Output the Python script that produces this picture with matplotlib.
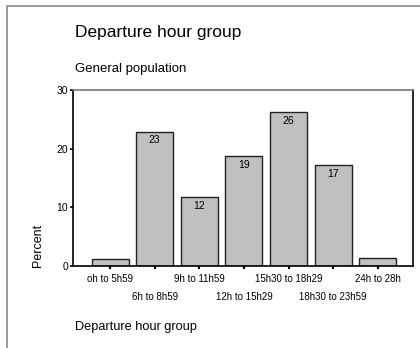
import numpy as np
import matplotlib
matplotlib.use('Agg')
from matplotlib import pyplot as plt
from matplotlib.patches import Rectangle

# departure hour groups, percent of general population
groups = ['oh to 5h59', '6h to 8h59', '9h to 11h59', '12h to 15h29',
          '15h30 to 18h29', '18h30 to 23h59', '24h to 28h']
percent = [1.2, 22.9, 11.7, 18.7, 26.2, 17.2, 1.4]
yticks = [0, 10, 20, 30]

plt.rcParams['font.family'] = ['Liberation Sans', 'DejaVu Sans']

fig = plt.figure(figsize=(4.2, 3.48), dpi=100)
W, H = 420.0, 348.0

# grey outer frame (only top and left visible)
fig.add_artist(Rectangle((7 / W, -0.2), 1.5, 1 - 6 / H + 0.2, transform=fig.transFigure,
                         fill=False, edgecolor='#8a8a8a', lw=1.2))

ax = fig.add_axes([73 / W, 1 - 266 / H, 340 / W, 176 / H])
x = np.arange(len(groups))
bars = ax.bar(x, percent, width=0.83, color='#c0c0c0', edgecolor='#222222', lw=1.0)

for xi, v in zip(x, percent):
    if v >= 5:
        ax.annotate('%d' % round(v), (xi, v), xytext=(0, -2.5), textcoords='offset points',
                    ha='center', va='top', fontsize=7.5)

ax.set_xlim(-0.83, 6.79)
ax.set_ylim(0, 30)
ax.set_yticks(yticks)
ax.set_yticklabels([str(t) for t in yticks], fontsize=7.5)
ax.set_xticks(x)
ax.set_xticklabels(groups, fontsize=7)
ax.tick_params(axis='y', direction='out', length=2.5, width=1.2, pad=1)
ax.tick_params(axis='x', direction='out', length=2, width=1.5)
for i, t in enumerate(ax.xaxis.get_major_ticks()):
    t.set_pad(3.5 if i % 2 == 0 else 17)

for s in ['left', 'right', 'bottom']:
    ax.spines[s].set_color('black')
    ax.spines[s].set_linewidth(1.2)
ax.spines['top'].set_color('#777777')
ax.spines['top'].set_linewidth(1.2)

fig.text(75 / W, 1 - 37 / H, 'Departure hour group', fontsize=12.5, va='baseline')
fig.text(75 / W, 1 - 72 / H, 'General population', fontsize=9.5, va='baseline')
fig.text(75 / W, 1 - 330 / H, 'Departure hour group', fontsize=9.2, va='baseline')
fig.text(37.5 / W, 1 - 245 / H, 'Percent', fontsize=9, rotation=90, ha='center', va='center')

plt.savefig('out.png', dpi=100)
